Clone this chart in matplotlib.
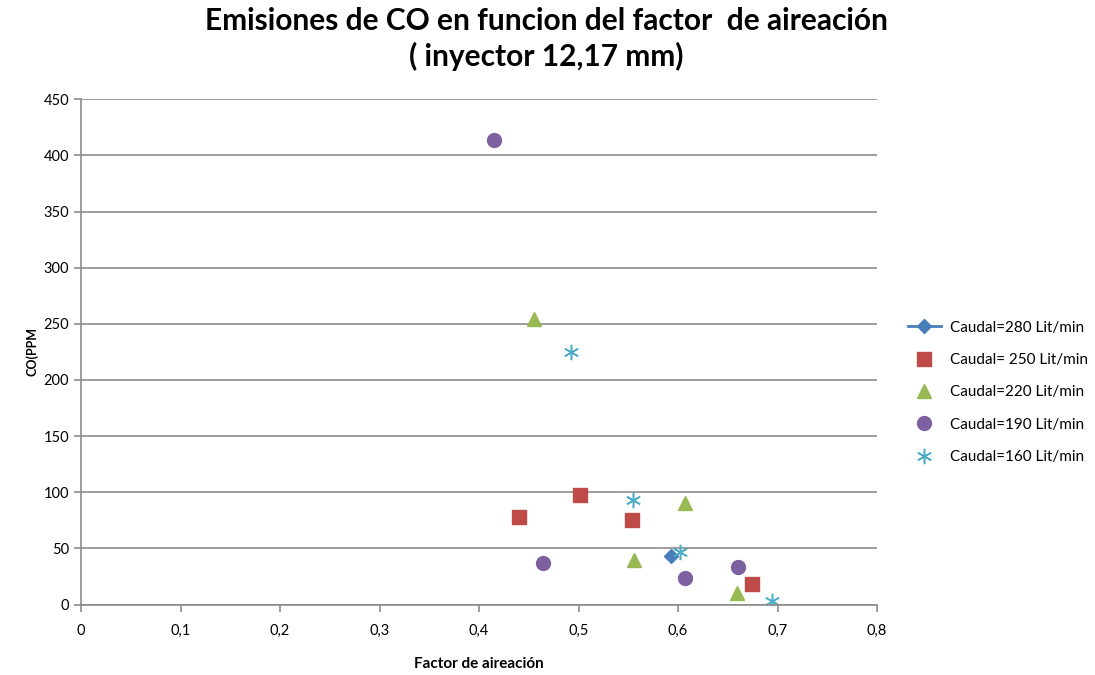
import numpy as np
import matplotlib
matplotlib.use('Agg')
import matplotlib.pyplot as plt

# datos
x280 = [0.593]
y280 = [43]
x250 = [0.440, 0.501, 0.554, 0.674]
y250 = [78, 97.5, 75.5, 18.5]
x220 = [0.455, 0.607, 0.556, 0.659]
y220 = [254, 90.5, 40, 10.5]
x190 = [0.415, 0.4645, 0.607, 0.660]
y190 = [414, 37, 24, 33]
x160 = [0.4925, 0.555, 0.6015, 0.694]
y160 = [224.5, 93, 46.5, 3]

plt.rcParams['font.family'] = ['Lato', 'DejaVu Sans']

fig = plt.figure(figsize=(10.95, 6.75), dpi=100)
ax = fig.add_axes([0.074, 0.1044, 0.727, 0.7486])

ax.plot(x280, y280, '-D', color='#4A7EBB', ms=7, lw=2, label='Caudal=280 Lit/min')
ax.plot(x250, y250, 's', color='#BE4B48', ms=10, ls='none', label='Caudal= 250 Lit/min')
ax.plot(x220, y220, '^', color='#98B954', ms=10, ls='none', label='Caudal=220 Lit/min')
ax.plot(x190, y190, 'o', color='#7D60A0', ms=10, ls='none', label='Caudal=190 Lit/min')
ax.plot(x160, y160, marker=(6, 2, 0), color='#4BACC6', ms=11, mew=1.1, ls='none',
        label='Caudal=160 Lit/min')

ax.set_xlim(0, 0.8)
ax.set_ylim(0, 450)
ax.set_xticks(np.arange(0, 0.81, 0.1))
ax.set_xticklabels(['0', '0,1', '0,2', '0,3', '0,4', '0,5', '0,6', '0,7', '0,8'])
ax.set_yticks(np.arange(0, 451, 50))
ax.grid(axis='y', color='#8c8c8c', lw=1.2)
ax.set_axisbelow(True)
for s in ['top', 'right']:
    ax.spines[s].set_visible(False)
for s in ['left', 'bottom']:
    ax.spines[s].set_color('#8c8c8c')
    ax.spines[s].set_linewidth(1.2)
ax.tick_params(colors='#8c8c8c', labelcolor='black', labelsize=10.5, length=5, width=1.2)
ax.tick_params(axis='x', pad=9)

ax.set_xlabel('Factor de aireación', fontsize=11, fontweight='bold', labelpad=14)
ax.set_ylabel('CO(PPM', fontsize=9, fontweight='bold', labelpad=4)

fig.suptitle('Emisiones de CO en funcion del factor  de aireación\n( inyector 12,17 mm)',
             x=0.499, y=0.99, fontsize=21.5, fontweight='bold', linespacing=1.3)

ax.legend(loc='center left', bbox_to_anchor=(1.025, 0.42), frameon=False,
          fontsize=11, labelspacing=1.2, handlelength=2.2, handletextpad=0.6,
          borderpad=0.2)

plt.savefig('out.png', dpi=100)
